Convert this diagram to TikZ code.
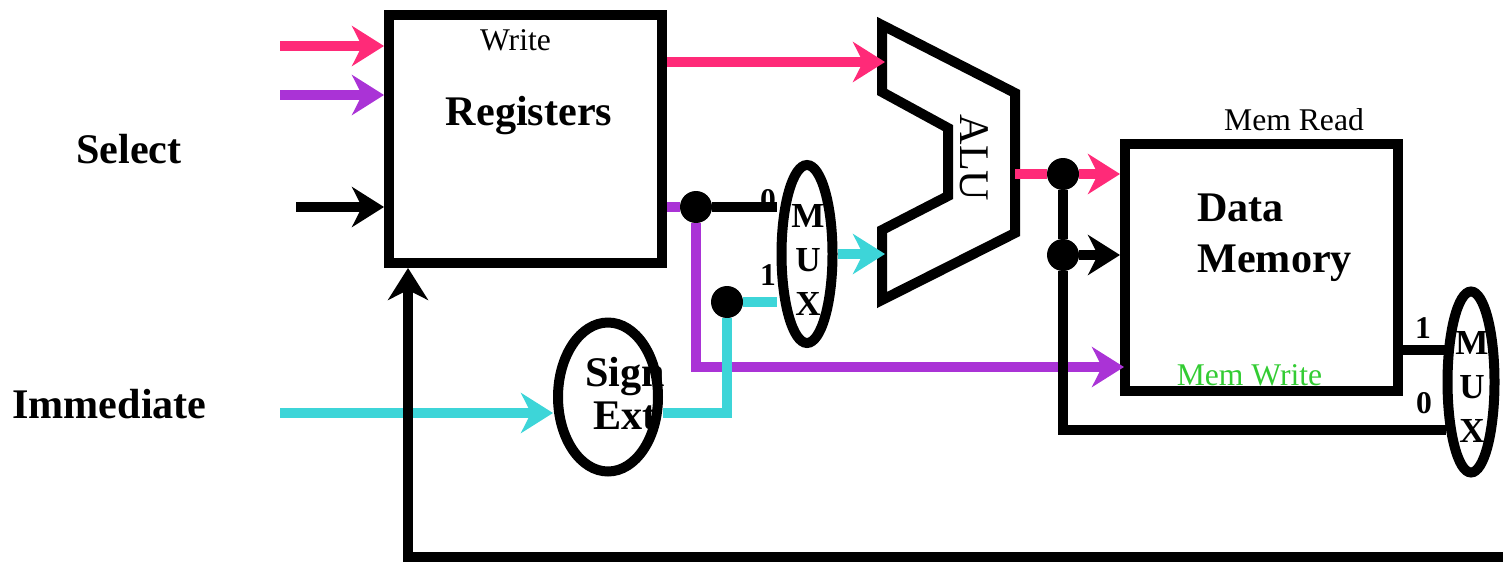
\documentclass[tikz,border=0pt]{standalone}
\usepackage{fontspec}
\setmainfont{Liberation Serif}
\usetikzlibrary{arrows.meta,shapes.geometric}
\definecolor{rpink}{HTML}{FF2A78}
\definecolor{rpurple}{HTML}{AA33D6}
\definecolor{rcyan}{HTML}{3DD5D8}
\definecolor{rgreen}{HTML}{33CC33}
\tikzset{wire/.style={line width=0.2cm}}
\tikzset{sig/.style={wire,-{Stealth[length=0.64cm,width=0.8cm,inset=0.2cm]}}}
\tikzset{unit/.style={rectangle,draw,line width=0.2cm,minimum width=5.46cm,minimum height=4.96cm}}
\tikzset{oval/.style={ellipse,draw,line width=0.2cm,inner sep=0pt}}
\tikzset{dot/.style={circle,fill,inner sep=0pt,minimum size=0.64cm}}
\tikzset{bigtxt/.style={font=\bfseries\fontsize{24}{29}\selectfont,anchor=base,inner sep=0pt}}
\tikzset{smalltxt/.style={font=\fontsize{18}{22}\selectfont,anchor=base}}
\tikzset{muxtxt/.style={font=\bfseries\fontsize{20}{25}\selectfont,align=center}}
\tikzset{pin/.style={font=\bfseries\fontsize{18}{22}\selectfont,anchor=base}}

\begin{document}
\begin{tikzpicture}[x=0.02cm,y=-0.02cm]
\useasboundingbox (0,0) rectangle (1503,561);
% units
\node[unit] (regs) at (525.5,139) {};
\node[unit] (dmem) at (1261.5,267.5) {};
\node[smalltxt] (write) at (515.5,50) {Write};
\node[bigtxt] (regname) at (529,125) {Registers};
\node[smalltxt] (memrd) at (1294,130) {Mem Read};
\node[smalltxt,text=rgreen] (memwr) at (1249.5,385) {Mem Write};
\node[bigtxt,anchor=base west] (dmname1) at (1197,221) {Data};
\node[bigtxt,anchor=base west] (dmname2) at (1197,272) {Memory};
\node[bigtxt] (sel) at (129,163) {Select};
\node[bigtxt] (imm) at (109.5,418) {Immediate};

% sign extend
\node[bigtxt] (signt) at (625,386) {Sign};
\node[bigtxt] (extt) at (625,429) {Ext};
\node[oval,minimum width=2cm,minimum height=2.98cm] (signext) at (608,397) {};

% muxes
\node[oval,fill=white,minimum width=1.02cm,minimum height=3.56cm] (mux1) at (807,254) {};
\node[muxtxt] (mux1t) at (808,260) {M\\U\\X};
\node[pin] (m1zero) at (768,210) {0};
\node[pin] (m1one) at (768,285) {1};
\node[oval,fill=white,minimum width=0.94cm,minimum height=3.62cm] (mux2) at (1471,382) {};
\node[muxtxt] (mux2t) at (1472,387) {M\\U\\X};
\node[pin] (m2one) at (1423,338) {1};
\node[pin] (m2zero) at (1424,413) {0};

% alu
\draw[wire] (882,25) -- (1015,93) -- (1015,233) -- (882,300) -- (882,230) -- (948,196) -- (948,128) -- (882,92) -- cycle;
\node[font=\fontsize{24}{28}\selectfont,rotate=-90] (alut) at (974,158) {ALU};
\coordinate (aluA) at (885,62);
\coordinate (aluB) at (885,254);
\coordinate (aluY) at (1015,174);

% joints
\node[dot] (j1) at (696,207) {};
\node[dot] (j2) at (727,302) {};
\node[dot] (j3) at (1063,174) {};
\node[dot] (j4) at (1063,255) {};

% ports
\coordinate (inA) at (280,46);
\coordinate (inB) at (280,95);
\coordinate (inC) at (296,207);
\coordinate (inImm) at (280,413);
\coordinate (extOut) at (663,413);
\coordinate (wrIn) at (1124,367);
\coordinate (m2in1) at (1446,350);
\coordinate (m2in0) at (1446,430);
\coordinate (wb) at (1503,557);

% wires
\draw[sig,rpink] (inA) -- (inA -| regs.west);
\draw[sig,rpurple] (inB) -- (inB -| regs.west);
\draw[sig] (inC) -- (inC -| regs.west);
\draw[sig,rpink] (regs.east |- aluA) -- (aluA);
\draw[wire,rpurple] (regs.east |- j1) -- (j1);
\draw[wire] (j1) -- (j1 -| mux1.west);
\draw[sig,rpurple] (j1) |- (wrIn);
\draw[sig,rcyan] (inImm) -- (inImm -| signext.west);
\draw[wire,rcyan] (extOut) -| (j2);
\draw[wire,rcyan] (j2) -- (j2 -| mux1.west);
\draw[sig,rcyan] (mux1.east) -- (aluB);
\draw[wire,rpink] (aluY) -- (j3);
\draw[sig,rpink] (j3) -- (j3 -| dmem.west);
\draw[wire] (j3) -- (j4);
\draw[sig] (j4) -- (j4 -| dmem.west);
\draw[wire] (j4) |- (m2in0);
\draw[wire] (dmem.east |- m2in1) -- (m2in1);
\draw[sig] (wb) -| ([xshift=0.48cm]regs.south west);
\end{tikzpicture}
\end{document}
